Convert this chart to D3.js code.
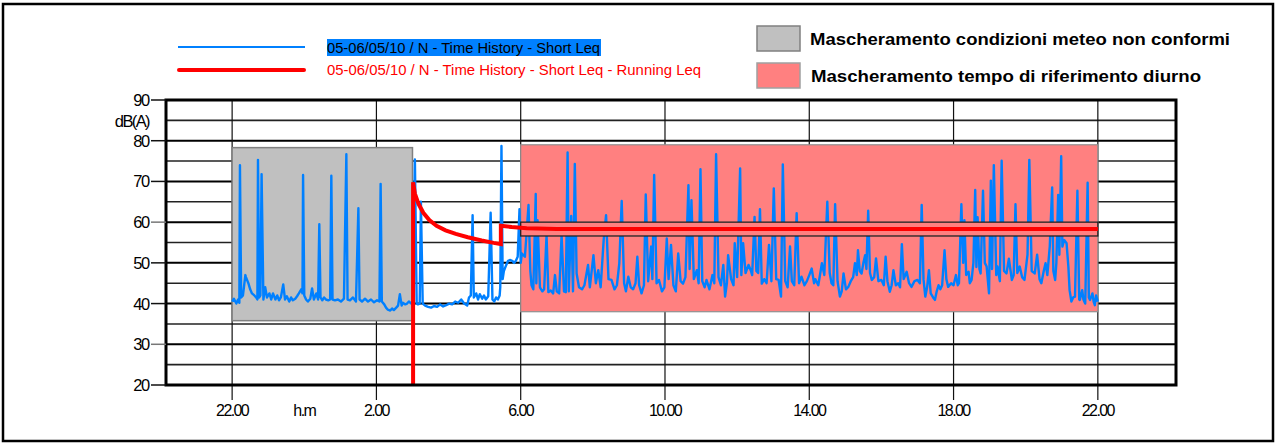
<!DOCTYPE html>
<html>
<head>
<meta charset="utf-8">
<script src="https://cdn.jsdelivr.net/npm/d3@7"></script>
<style>
  html, body { margin: 0; padding: 0; background: #fff; }
  svg { display: block; font-family: "Liberation Sans", Arial, sans-serif; }
</style>
</head>
<body>
<svg id="chart" width="1276" height="444"></svg>
<script>
// Axis ticks (time in minutes after 22:00 of the first day)
const timeTicks = [0, 240, 480, 720, 960, 1200, 1440];
const timeTickLabels = ["22.00", "2.00", "6.00", "10.00", "14.00", "18.00", "22.00"];
const dbTicks = [20, 30, 40, 50, 60, 70, 80, 90];
const dbGrid = [25, 35, 45, 55, 65, 75, 85];

// Masks: [start, end] minutes and [low, high] dB
const meteoMaskTime = [0, 300];
const meteoMaskDb = [35.8, 78.3];
const dayMaskTime = [480, 1440];
const dayMaskDb = [38.0, 79.0];
const dayLeqBandDb = [56.6, 60.0];

// Short Leq time history [minutes, dB(A)]
const shortLeq = [
  [0,40.5],[3,41.2],[7,40.0],[10,41.0],[12,40.2],[13,74.0],[15,41.5],[18,42.0],[22,47.0],[23,46.5],[27,45.0],[30,43.5],
  [33,42.5],[37,42.0],[40,41.5],[42,41.0],[43,75.3],[45,41.5],[47,42.0],[49,71.8],[52,41.0],[55,44.0],[58,41.5],[62,42.5],
  [65,41.0],[68,42.5],[72,41.0],[75,42.0],[78,40.8],[81,41.5],[85,44.7],[88,41.0],[91,41.8],[95,40.5],[98,41.5],[101,40.8],
  [105,41.2],[108,41.8],[111,42.5],[115,43.5],[117,42.5],[118,71.6],[120,42.0],[123,41.0],[126,40.5],[130,41.2],[133,43.7],
  [136,41.0],[140,42.5],[143,41.0],[145,59.5],[147,41.5],[150,40.8],[153,41.5],[156,41.0],[160,40.8],[163,41.0],[165,71.4],
  [167,41.0],[171,40.8],[176,41.0],[181,40.5],[186,41.2],[190,76.7],[192,41.0],[196,40.8],[201,41.5],[206,40.5],[210,63.4],
  [212,41.0],[216,40.5],[221,41.2],[226,40.5],[231,41.0],[236,40.3],[241,40.8],[245,40.5],[247,69.4],[249,40.5],[253,39.8],
  [256,39.0],[259,38.5],[263,38.3],[266,38.8],[269,38.4],[273,39.0],[276,39.5],[279,42.3],[282,39.5],[284,40.2],[288,39.8],
  [291,40.0],[294,40.5],[298,40.0],[301,40.5],[304,75.4],[307,40.0],[309,39.8],[312,40.0],[314,65.0],[317,40.0],[321,39.5],
  [326,39.2],[331,39.0],[336,39.4],[341,39.2],[346,39.8],[351,39.3],[356,39.6],[361,40.0],[366,39.8],[371,40.5],[376,40.2],
  [381,41.0],[386,40.0],[391,39.5],[394,41.5],[397,42.0],[400,61.7],[402,41.5],[406,42.5],[409,41.0],[412,42.3],[416,41.2],
  [419,42.0],[422,41.0],[426,41.8],[430,62.3],[433,41.0],[436,40.5],[439,41.5],[442,41.0],[445,42.0],[446,44.0],[448,78.7],
  [450,46.0],[452,48.0],[456,49.5],[459,50.5],[462,50.7],[466,50.5],[469,50.0],[472,50.5],[475,51.5],[478,63.2],[480,50.0],
  [482,52.3],[487,51.5],[493,64.2],[496,48.0],[498,44.5],[501,43.5],[505,66.9],[506,45.0],[508,60.5],[512,44.0],[516,43.0],
  [519,43.5],[523,56.8],[526,42.8],[530,43.2],[534,42.5],[537,47.0],[540,43.0],[544,42.5],[548,56.8],[552,43.0],[555,42.8],
  [558,77.1],[560,43.0],[564,61.5],[567,43.0],[570,74.3],[573,47.4],[577,44.0],[582,43.5],[586,44.5],[592,49.5],[595,44.0],
  [601,51.9],[605,45.0],[609,48.2],[613,44.0],[618,55.6],[622,61.7],[626,46.0],[631,45.8],[636,43.5],[640,44.5],[644,49.9],
  [648,65.2],[652,45.0],[655,43.0],[659,46.6],[663,44.0],[667,43.5],[671,45.0],[674,51.5],[677,44.5],[681,42.5],[685,44.5],
  [688,66.8],[692,45.5],[697,54.0],[699,46.0],[702,71.6],[706,45.0],[710,45.8],[715,43.0],[719,44.0],[723,56.0],[726,46.0],
  [730,54.4],[734,44.5],[738,43.0],[742,52.3],[746,45.5],[750,44.9],[754,46.5],[759,69.1],[761,48.5],[764,65.4],[768,46.0],
  [773,48.2],[776,45.0],[779,73.0],[782,45.5],[786,44.0],[789,45.8],[794,43.5],[799,47.0],[802,45.0],[805,76.7],[809,46.5],
  [813,44.5],[817,49.5],[820,41.7],[823,45.0],[825,51.9],[830,46.0],[834,44.5],[836,54.8],[840,46.5],[845,73.2],[847,47.0],
  [850,54.8],[854,47.5],[859,49.5],[863,48.0],[865,47.0],[869,61.3],[872,48.0],[875,47.5],[878,63.2],[881,44.9],[885,46.0],
  [889,45.0],[893,54.4],[897,45.5],[901,68.3],[905,46.0],[909,45.8],[913,41.7],[916,74.2],[920,45.5],[924,44.0],[928,54.0],
  [931,45.5],[935,44.5],[939,62.2],[943,45.0],[947,46.6],[952,44.5],[956,45.5],[960,47.0],[964,48.6],[968,45.0],[970,46.0],
  [975,44.5],[981,49.9],[985,47.0],[990,65.0],[994,47.5],[997,45.0],[1000,44.5],[1003,64.4],[1007,45.5],[1011,41.7],[1014,43.0],
  [1017,47.4],[1021,43.5],[1025,44.1],[1029,45.5],[1033,46.5],[1036,49.9],[1039,47.0],[1041,53.1],[1044,48.0],[1047,47.4],
  [1050,50.0],[1053,51.9],[1055,48.5],[1058,62.8],[1061,47.5],[1064,45.8],[1068,46.5],[1071,51.1],[1075,45.5],[1080,45.8],
  [1084,44.5],[1087,51.5],[1090,45.5],[1094,42.9],[1097,44.5],[1100,48.2],[1104,44.5],[1108,45.0],[1111,44.0],[1114,54.6],
  [1117,46.0],[1122,47.8],[1126,45.0],[1130,44.1],[1135,45.5],[1140,45.8],[1144,45.0],[1147,64.2],[1150,46.0],[1153,41.7],
  [1156,44.0],[1159,48.2],[1162,42.5],[1166,41.5],[1169,40.9],[1172,43.0],[1175,44.5],[1178,43.5],[1181,44.5],[1185,53.1],
  [1188,46.0],[1191,44.1],[1196,45.0],[1200,44.5],[1204,47.0],[1207,44.5],[1209,45.0],[1213,64.4],[1216,50.0],[1218,60.5],
  [1221,47.0],[1225,47.8],[1227,45.0],[1230,45.8],[1233,50.0],[1236,67.9],[1238,49.0],[1240,61.2],[1243,48.5],[1245,47.4],
  [1249,67.7],[1252,50.0],[1255,49.1],[1259,42.5],[1262,70.2],[1264,48.5],[1267,74.0],[1271,47.0],[1273,49.1],[1277,45.5],
  [1280,75.1],[1284,48.0],[1288,47.4],[1292,51.0],[1297,45.8],[1300,47.0],[1303,64.4],[1306,47.5],[1310,49.1],[1314,46.5],
  [1318,45.8],[1323,52.0],[1326,75.3],[1330,48.0],[1335,47.4],[1339,52.0],[1343,46.0],[1346,45.0],[1350,48.0],[1353,49.9],
  [1356,47.0],[1360,54.0],[1364,68.5],[1366,48.0],[1369,45.8],[1371,50.0],[1374,66.7],[1376,52.0],[1379,76.2],[1381,54.0],
  [1384,55.6],[1388,54.8],[1391,49.0],[1393,43.3],[1396,40.5],[1399,41.5],[1402,41.7],[1406,67.7],[1409,41.0],[1410,40.9],
  [1414,43.3],[1416,41.0],[1419,40.0],[1423,69.7],[1425,41.5],[1427,40.9],[1431,42.5],[1433,40.5],[1435,39.6],[1437,42.0],
  [1440,40.5]
];

// Running Leq [minutes, dB(A)]
const runningLeq = [
  [301,20],[301,69.8],[304,67.0],[310,64.5],[318,62.3],[328,60.5],[340,59.1],[355,58.0],[372,57.1],[392,56.3],
  [415,55.5],[435,54.9],[447,54.6],[447,59.1],[465,58.8],[490,58.5],[540,58.3],[1440,58.3]
];

const legendSeries = ["05-06/05/10 / N - Time History - Short Leq", "05-06/05/10 / N - Time History - Short Leq - Running Leq"];
const legendMasks = ["Mascheramento condizioni meteo non conformi", "Mascheramento tempo di riferimento diurno"];

const svg = d3.select('#chart');
const plot = { left: 166, right: 1176, top: 100, bottom: 385 };

const x = d3.scaleLinear().domain([-110, 1570]).range([plot.left, plot.right]);
const y = d3.scaleLinear().domain([20, 90]).range([plot.bottom, plot.top]);

// outer frame
svg.append('rect')
    .attr('x', 3).attr('y', 4).attr('width', 1270).attr('height', 437)
    .attr('fill', 'none').attr('stroke', '#000').attr('stroke-width', 2.5);

// grid - horizontal
svg.append('g').selectAll('line')
    .data(dbGrid.concat(dbTicks))
    .enter().append('line')
    .attr('x1', plot.left).attr('x2', plot.right)
    .attr('y1', d => y(d)).attr('y2', d => y(d))
    .attr('stroke', d => d % 10 === 0 ? '#000' : '#222')
    .attr('stroke-width', d => d % 10 === 0 ? 2 : 1.6);

// grid - vertical (running down as tick marks)
svg.append('g').selectAll('line')
    .data(timeTicks)
    .enter().append('line')
    .attr('x1', d => x(d)).attr('x2', d => x(d))
    .attr('y1', plot.top).attr('y2', plot.bottom + 15)
    .attr('stroke', '#111').attr('stroke-width', 1.2);

// masks
svg.append('rect')
    .attr('x', x(meteoMaskTime[0])).attr('width', x(meteoMaskTime[1]) - x(meteoMaskTime[0]))
    .attr('y', y(meteoMaskDb[1])).attr('height', y(meteoMaskDb[0]) - y(meteoMaskDb[1]))
    .attr('fill', '#c0c0c0').attr('stroke', '#808080').attr('stroke-width', 1.5);

svg.append('rect')
    .attr('x', x(dayMaskTime[0])).attr('width', x(dayMaskTime[1]) - x(dayMaskTime[0]))
    .attr('y', y(dayMaskDb[1])).attr('height', y(dayMaskDb[0]) - y(dayMaskDb[1]))
    .attr('fill', '#ff8080').attr('stroke', '#909090').attr('stroke-width', 1.2);

// short Leq
const line = d3.line().x(d => x(d[0])).y(d => y(d[1]));
svg.append('path')
    .datum(shortLeq)
    .attr('d', line)
    .attr('fill', 'none').attr('stroke', '#0080ff').attr('stroke-width', 2.4)
    .attr('stroke-linejoin', 'round');

// band under the running Leq inside the day mask
svg.append('rect')
    .attr('x', x(dayMaskTime[0])).attr('width', x(dayMaskTime[1]) - x(dayMaskTime[0]))
    .attr('y', y(dayLeqBandDb[1])).attr('height', y(dayLeqBandDb[0]) - y(dayLeqBandDb[1]))
    .attr('fill', '#ff8080').attr('stroke', '#222').attr('stroke-width', 1.3);

// running Leq
svg.append('path')
    .datum(runningLeq)
    .attr('d', line)
    .attr('fill', 'none').attr('stroke', '#ff0000').attr('stroke-width', 4);

// plot border
svg.append('rect')
    .attr('x', plot.left).attr('y', plot.top)
    .attr('width', plot.right - plot.left).attr('height', plot.bottom - plot.top)
    .attr('fill', 'none').attr('stroke', '#000').attr('stroke-width', 3);

// y axis
const yAxis = svg.append('g');
yAxis.selectAll('line')
    .data(dbTicks)
    .enter().append('line')
    .attr('x1', plot.left - 15).attr('x2', plot.left)
    .attr('y1', d => y(d)).attr('y2', d => y(d))
    .attr('stroke', d => (d === 60 || d === 30) ? '#777' : '#111').attr('stroke-width', 1.5);
yAxis.selectAll('text')
    .data(dbTicks)
    .enter().append('text')
    .attr('x', plot.left - 17).attr('y', d => y(d))
    .attr('dy', '0.36em').attr('text-anchor', 'end')
    .attr('font-size', 16.5).attr('letter-spacing', -1.3)
    .text(d => d);
svg.append('text')
    .attr('x', plot.left - 17).attr('y', 127)
    .attr('text-anchor', 'end').attr('font-size', 16.5).attr('letter-spacing', -1.6)
    .text('dB(A)');

// x axis labels
svg.append('g').selectAll('text')
    .data(timeTicks)
    .enter().append('text')
    .attr('x', d => x(d)).attr('y', 416)
    .attr('text-anchor', 'middle').attr('font-size', 16).attr('letter-spacing', -1.6)
    .text((d, i) => timeTickLabels[i]);
svg.append('text')
    .attr('x', (x(timeTicks[0]) + x(timeTicks[1])) / 2).attr('y', 416)
    .attr('text-anchor', 'middle').attr('font-size', 16).attr('letter-spacing', -1.6)
    .text('h.m');

// legend - series
const lg = svg.append('g');
lg.append('line').attr('x1', 178).attr('x2', 305).attr('y1', 47).attr('y2', 47)
    .attr('stroke', '#0080ff').attr('stroke-width', 2);
lg.append('line').attr('x1', 179).attr('x2', 304).attr('y1', 70).attr('y2', 70)
    .attr('stroke', '#ff0000').attr('stroke-width', 4).attr('stroke-linecap', 'round');
lg.append('rect').attr('x', 327).attr('y', 39).attr('width', 274).attr('height', 17)
    .attr('fill', '#0080ff');
lg.append('text').attr('x', 327).attr('y', 53).attr('font-size', 15.5)
    .attr('textLength', 273).attr('lengthAdjust', 'spacingAndGlyphs')
    .attr('fill', '#000').text(legendSeries[0]);
lg.append('text').attr('x', 327).attr('y', 75).attr('font-size', 15.5)
    .attr('textLength', 374).attr('lengthAdjust', 'spacingAndGlyphs')
    .attr('fill', '#ff0000').text(legendSeries[1]);

// legend - masks
const lm = svg.append('g');
lm.append('rect').attr('x', 757).attr('y', 26).attr('width', 43).attr('height', 25)
    .attr('fill', '#c0c0c0').attr('stroke', '#808080').attr('stroke-width', 1.5);
lm.append('rect').attr('x', 757).attr('y', 63).attr('width', 43).attr('height', 25)
    .attr('fill', '#ff8080').attr('stroke', '#a0a0a0').attr('stroke-width', 1.5);
lm.append('text').attr('x', 810).attr('y', 45).attr('font-size', 16).attr('font-weight', 'bold')
    .attr('textLength', 420).attr('lengthAdjust', 'spacingAndGlyphs')
    .text(legendMasks[0]);
lm.append('text').attr('x', 811).attr('y', 82).attr('font-size', 16).attr('font-weight', 'bold')
    .attr('textLength', 390).attr('lengthAdjust', 'spacingAndGlyphs')
    .text(legendMasks[1]);
</script>
</body>
</html>
